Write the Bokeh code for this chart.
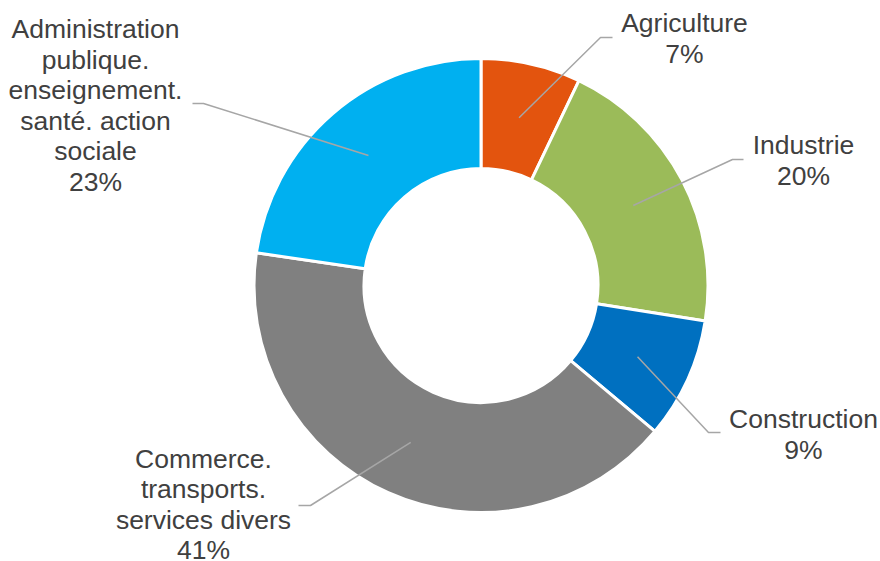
import math
from bokeh.plotting import figure
from bokeh.models import Range1d, ColumnDataSource
from bokeh.core.properties import value
from bokeh.embed import file_html
from bokeh.resources import INLINE

# ---- data ----
categories = ["Agriculture", "Industrie", "Construction",
              "Commerce. transports. services divers",
              "Administration publique. enseignement. santé. action sociale"]
label_names = ["Agriculture", "Industrie", "Construction",
               "Commerce.\ntransports.\nservices divers",
               "Administration\npublique.\nenseignement.\nsanté. action\nsociale"]
shares = [7.1, 20.4, 8.6, 41.2, 22.7]
colors = ["#E3540E", "#9BBB59", "#0070C0", "#808080", "#00B0F0"]

# ---- layout (screen px: centre of donut, label anchors, leader elbows) ----
CX, CY = 480.5, 285.0
R_OUT, R_IN = 227.0, 117.0
label_pos = [(684, 38), (803, 160), (803, 434), (203, 504), (95, 105)]
elbows = [((600, 37), (612, 37)), ((732, 159), (743, 159)), ((708, 432), (720, 432)),
          ((310, 505), (298, 505)), ((203, 103), (192, 103))]

W, H = 880, 561
OFF = 0
def dx(px):
    return px - CX
def dy(py):
    return CY - py

p = figure(width=W, height=H, output_backend="svg", toolbar_location=None,
           x_range=Range1d(dx(OFF), dx(OFF + W)), y_range=Range1d(dy(OFF + H), dy(OFF)),
           min_border=0, x_axis_type=None, y_axis_type=None)
p.grid.visible = False
p.outline_line_color = None
p.background_fill_color = "white"
p.border_fill_color = "white"

total = sum(shares)
starts, ends, mids = [], [], []
cum = 0.0
for v in shares:
    a0 = math.pi / 2 - 2 * math.pi * cum / total
    cum += v
    a1 = math.pi / 2 - 2 * math.pi * cum / total
    starts.append(a0)
    ends.append(a1)
    mids.append((a0 + a1) / 2)

src = ColumnDataSource(dict(x=[0] * len(shares), y=[0] * len(shares),
                            start=starts, end=ends, color=colors, cat=categories))
p.annular_wedge(x="x", y="y", inner_radius=R_IN, outer_radius=R_OUT,
                start_angle="start", end_angle="end", direction="clock",
                fill_color="color", line_color="white", line_width=3, source=src)

# leader lines
rm = (R_IN + R_OUT) / 2
for m, (e1, e2) in zip(mids, elbows):
    xs = [rm * math.cos(m), dx(e1[0]), dx(e2[0])]
    ys = [rm * math.sin(m), dy(e1[1]), dy(e2[1])]
    p.line(xs, ys, line_color="#A6A6A6", line_width=1.5)

# labels
texts = [f"{n}\n{round(v)}%" for n, v in zip(label_names, shares)]
p.text(x=[dx(a) for a, b in label_pos], y=[dy(b) for a, b in label_pos], text=texts,
       text_align="center", text_baseline="middle", text_font=value("Liberation Sans"),
       text_font_size="26.5px", text_color="#404040", text_line_height=1.02)

open("out.html", "w").write(file_html(p, INLINE))
